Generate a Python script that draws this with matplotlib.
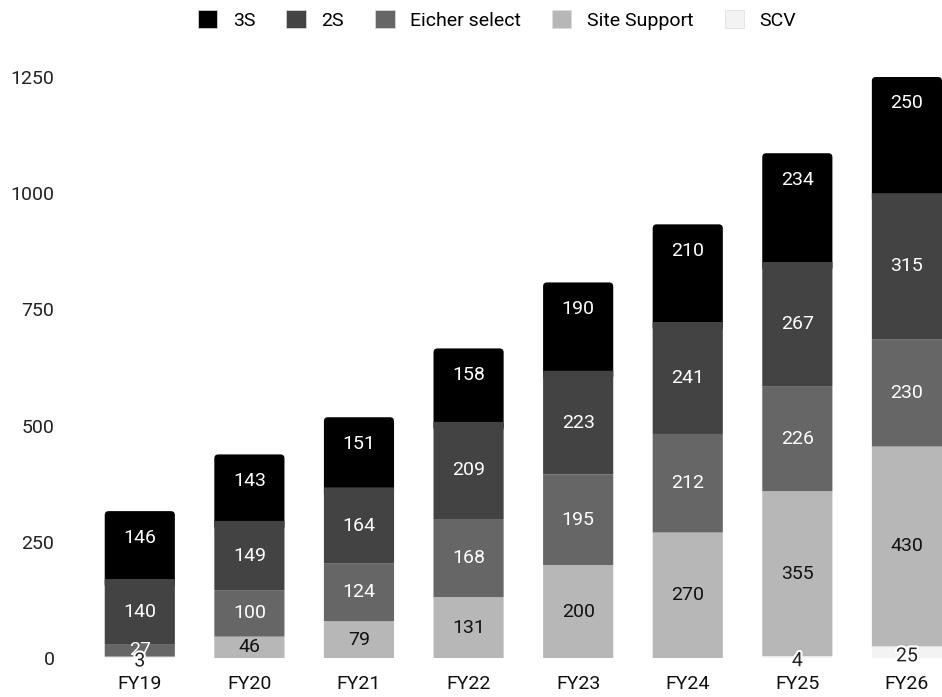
import matplotlib
matplotlib.use("Agg")
import matplotlib.pyplot as plt
import matplotlib.patheffects as pe
from matplotlib.patches import FancyBboxPatch, Patch
import numpy as np

categories = ["FY19", "FY20", "FY21", "FY22", "FY23", "FY24", "FY25", "FY26"]
scv = [3, 0, 0, 0, 0, 0, 4, 25]
site_support = [0, 46, 79, 131, 200, 270, 355, 430]
eicher_select = [27, 100, 124, 168, 195, 212, 226, 230]
two_s = [140, 149, 164, 209, 223, 241, 267, 315]
three_s = [146, 143, 151, 158, 190, 210, 234, 250]
yticks = [0, 250, 500, 750, 1000, 1250]

plt.rcParams["font.family"] = ["Roboto", "DejaVu Sans"]

fig = plt.figure(figsize=(9.42, 6.97), dpi=100)
ax = fig.add_axes([85 / 942, (697 - 658) / 697, (942 - 85) / 942, (658 - 77) / 697])
ax.set_xlim(-0.5, 7.32)
ax.set_ylim(0, 1250)

series = [
    ("SCV", scv, "#f3f3f3", "#222222"),
    ("Site Support", site_support, "#b7b7b7", "#111111"),
    ("Eicher select", eicher_select, "#666666", "#ffffff"),
    ("2S", two_s, "#434343", "#ffffff"),
    ("3S", three_s, "#000000", "#ffffff"),
]
width = 0.64
x = np.arange(len(categories))
bottom = np.zeros(len(categories))
handles = {}
px_x = (942 - 85) / 7.82
px_y = (658 - 77) / 1250
for name, vals, col, tcol in series:
    vals = np.array(vals, dtype=float)
    if name == "3S":
        ext = 20.0
        for i, v in enumerate(vals):
            p = FancyBboxPatch((x[i] - width / 2, bottom[i] - ext), width, v + ext,
                               boxstyle="round,pad=0,rounding_size=%f" % (4 / px_x),
                               mutation_aspect=px_x / px_y,
                               facecolor=col, edgecolor="none", zorder=1.5)
            ax.add_patch(p)
        handles[name] = Patch(facecolor=col)
    else:
        b = ax.bar(x, vals, width, bottom=bottom, color=col, label=name, zorder=2)
        for r in b.patches:
            r.set_snap(False)
        handles[name] = Patch(facecolor=col)
    for i, v in enumerate(vals):
        if v <= 0:
            continue
        if name == "3S":
            ax.annotate(str(int(v)), (x[i], bottom[i] + v), xytext=(0, -19),
                        textcoords="offset points", ha="center", va="center",
                        color=tcol, fontsize=14, zorder=4)
        elif name == "SCV":
            t = ax.annotate(str(int(v)), (x[i], bottom[i] + v / 2), xytext=(0, -3),
                            textcoords="offset points", ha="center", va="center",
                            color=tcol, fontsize=14, zorder=5)
            t.set_path_effects([pe.withStroke(linewidth=3, foreground="white")])
        else:
            ax.text(x[i], bottom[i] + v / 2, str(int(v)), ha="center", va="center",
                    color=tcol, fontsize=14, zorder=4)
    bottom += vals

ax.set_yticks(yticks)
ax.set_yticklabels([str(t) for t in yticks], fontsize=14, color="#222222")
ax.set_xticks(x)
ax.set_xticklabels(categories, fontsize=14, color="#111111")
ax.tick_params(axis="both", length=0)
ax.tick_params(axis="y", pad=22)
ax.tick_params(axis="x", pad=12)
for s in ax.spines.values():
    s.set_visible(False)

order = ["3S", "2S", "Eicher select", "Site Support", "SCV"]
leg = fig.legend([handles[n] for n in order], order, loc="center",
                 bbox_to_anchor=(497 / 942, 1 - 20 / 697), ncol=5, frameon=False, fontsize=14,
                 handlelength=1.0, handleheight=1.0, columnspacing=1.6, handletextpad=0.8)
for h in leg.legend_handles:
    h.set_edgecolor("#dddddd")
    h.set_linewidth(0.5)

fig.savefig("out.png", dpi=100)
